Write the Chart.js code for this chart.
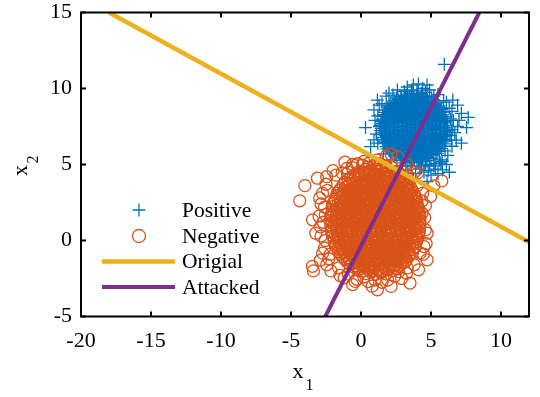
<!DOCTYPE html>
<html><head><meta charset="utf-8">
<script src="https://cdn.jsdelivr.net/npm/chart.js@4"></script>
<style>html,body{margin:0;padding:0;background:#fff;}canvas{display:block;}</style>
</head><body>
<canvas id="c" width="540" height="397"></canvas>
<script>
// ---- data ----
const xTicks = [-20, -15, -10, -5, 0, 5, 10];
const yTicks = [-5, 0, 5, 10, 15];
const xRange = [-20, 12];
const yRange = [-5, 15];
const seriesNames = ['Positive', 'Negative', 'Origial', 'Attacked'];
const originalLineX = [-18, 12];
const originalLineY = [15, -0.1];
const attackedLineX = [-2.55, 8.45];
const attackedLineY = [-5, 15];

// Positive samples, pairs x,y
const positivePts = [
3.35,5.13, 3.68,5.19, 4.0,5.12, 4.3,5.17,
2.56,5.43, 2.87,5.48, 3.17,5.41, 3.47,5.47, 3.77,5.42, 4.07,5.5, 4.37,5.44, 4.67,5.46, 5.0,5.41,
2.16,5.77, 2.46,5.72, 2.76,5.79, 3.06,5.73, 3.36,5.78, 3.66,5.71, 3.96,5.76, 4.26,5.74, 4.56,5.8, 4.86,5.72, 5.16,5.77, 5.43,5.73,
1.86,6.03, 2.16,6.08, 2.46,6.01, 2.76,6.07, 3.06,6.02, 3.36,6.09, 3.66,6.04, 3.96,6.06, 4.26,6.0, 4.56,6.08, 4.86,6.03, 5.16,6.07, 5.46,6.02, 5.74,6.06,
1.66,6.37, 1.96,6.32, 2.26,6.39, 2.56,6.33, 2.86,6.38, 3.16,6.31, 3.46,6.36, 3.76,6.34, 4.06,6.4, 4.36,6.32, 4.66,6.37, 4.96,6.33, 5.26,6.38, 5.56,6.31, 5.93,6.36,
1.56,6.63, 1.86,6.68, 2.16,6.61, 2.46,6.67, 2.76,6.62, 3.06,6.69, 3.36,6.64, 3.66,6.66, 3.96,6.6, 4.26,6.68, 4.56,6.63, 4.86,6.67, 5.16,6.62, 5.46,6.69, 5.76,6.64, 6.04,6.66,
1.46,6.97, 1.76,6.92, 2.06,6.99, 2.36,6.93, 2.66,6.98, 2.96,6.91, 3.26,6.96, 3.56,6.94, 3.86,7.0, 4.16,6.92, 4.46,6.97, 4.76,6.93, 5.06,6.98, 5.36,6.91, 5.66,6.96, 5.96,6.94, 6.14,6.98,
1.41,7.23, 1.71,7.28, 2.01,7.21, 2.31,7.27, 2.61,7.22, 2.91,7.29, 3.21,7.24, 3.51,7.26, 3.81,7.2, 4.11,7.28, 4.41,7.23, 4.71,7.27, 5.01,7.22, 5.31,7.29, 5.61,7.24, 5.91,7.26, 6.19,7.22,
1.42,7.57, 1.72,7.52, 2.02,7.59, 2.32,7.53, 2.62,7.58, 2.92,7.51, 3.22,7.56, 3.52,7.54, 3.82,7.6, 4.12,7.52, 4.42,7.57, 4.72,7.53, 5.02,7.58, 5.32,7.51, 5.62,7.56, 5.92,7.54, 6.18,7.58,
1.47,7.83, 1.77,7.88, 2.07,7.81, 2.37,7.87, 2.67,7.82, 2.97,7.89, 3.27,7.84, 3.57,7.86, 3.87,7.8, 4.17,7.88, 4.47,7.83, 4.77,7.87, 5.07,7.82, 5.37,7.89, 5.67,7.84, 5.97,7.86, 6.13,7.81,
1.55,8.17, 1.85,8.12, 2.15,8.19, 2.45,8.13, 2.75,8.18, 3.05,8.11, 3.35,8.16, 3.65,8.14, 3.95,8.2, 4.25,8.12, 4.55,8.17, 4.85,8.13, 5.15,8.18, 5.45,8.11, 5.75,8.16, 6.05,8.14,
1.68,8.43, 1.98,8.48, 2.28,8.41, 2.58,8.47, 2.88,8.42, 3.18,8.49, 3.48,8.44, 3.78,8.46, 4.08,8.4, 4.38,8.48, 4.68,8.43, 4.98,8.47, 5.28,8.42, 5.58,8.49, 5.91,8.44,
1.87,8.77, 2.17,8.72, 2.47,8.79, 2.77,8.73, 3.07,8.78, 3.37,8.71, 3.67,8.76, 3.97,8.74, 4.27,8.8, 4.57,8.72, 4.87,8.77, 5.17,8.73, 5.47,8.78, 5.72,8.74,
2.14,9.03, 2.44,9.08, 2.74,9.01, 3.04,9.07, 3.34,9.02, 3.64,9.09, 3.94,9.04, 4.24,9.06, 4.54,9.0, 4.84,9.08, 5.14,9.03, 5.44,9.06,
2.55,9.37, 2.85,9.32, 3.15,9.39, 3.45,9.33, 3.75,9.38, 4.05,9.31, 4.35,9.36, 4.65,9.34, 5.04,9.38,
3.32,9.63, 3.65,9.68, 3.98,9.61, 4.3,9.67,
5.95,11.59, 0.32,7.43, 0.93,8.59, 1.17,9.24, 2.28,9.57, 3.74,10.23, 4.72,10.23, 6.56,9.24, 7.17,8.37, 7.66,8.1,
7.54,7.43, 7.17,6.4, 6.31,4.49, 5.82,4.64, 4.72,3.88, 3.74,3.99, 0.69,6.18, 0.93,6.62,
1.0,7.9, 1.1,7.0, 1.3,8.9, 1.8,9.5, 2.6,9.9, 3.1,9.8, 4.4,10.0, 4.9,9.9, 5.5,9.6, 6.1,9.1, 6.5,8.5, 6.6,7.9,
6.7,7.1, 6.5,6.2, 6.2,5.6, 5.7,5.1, 5.3,4.7, 4.8,4.6, 4.2,4.7, 2.8,4.9, 2.1,5.3, 1.6,5.7, 1.2,6.4, 6.9,7.5,
3.3,10.1, 4.1,10.3, 1.5,9.0, 2.0,9.7,
6.45,6.6, 6.5,7.3, 6.4,8.0, 6.3,8.7, 6.0,5.9, 5.6,5.3, 4.9,4.95, 4.3,4.85, 3.6,4.9, 5.3,5.05, 6.35,6.9, 5.9,9.2,
3.6,9.9, 4.0,9.85, 4.6,9.75, 5.2,9.5,
4.5,4.5, 5.0,4.3, 5.5,4.4, 5.2,4.9, 4.6,5.0, 5.8,5.2, 6.1,5.0, 3.2,4.6, 3.9,4.4, 6.8,6.6, 7.0,7.9, 6.9,8.9,
1.3,7.5, 1.2,8.2
];
// Positive samples in the dense core (between the rows above)
const positiveCorePts = [
2.9,5.27, 3.2,5.35, 3.5,5.25, 3.8,5.33, 4.1,5.29, 4.4,5.36, 4.7,5.26,
2.4,5.58, 2.7,5.65, 3.0,5.55, 3.3,5.63, 3.6,5.59, 3.9,5.66, 4.2,5.56, 4.5,5.62, 4.8,5.57, 5.15,5.64,
2.02,5.88, 2.32,5.95, 2.62,5.85, 2.92,5.93, 3.22,5.89, 3.52,5.96, 3.82,5.86, 4.12,5.92, 4.42,5.87, 4.72,5.94, 5.02,5.88, 5.32,5.93, 5.58,5.86,
1.78,6.18, 2.08,6.25, 2.38,6.15, 2.68,6.23, 2.98,6.19, 3.28,6.26, 3.58,6.16, 3.88,6.22, 4.18,6.17, 4.48,6.24, 4.78,6.18, 5.08,6.23, 5.38,6.16, 5.68,6.22,
1.62,6.48, 1.92,6.55, 2.22,6.45, 2.52,6.53, 2.82,6.49, 3.12,6.56, 3.42,6.46, 3.72,6.52, 4.02,6.47, 4.32,6.54, 4.62,6.48, 4.92,6.53, 5.22,6.46, 5.52,6.52, 5.82,6.47, 6.0,6.55,
1.52,6.78, 1.82,6.85, 2.12,6.75, 2.42,6.83, 2.72,6.79, 3.02,6.86, 3.32,6.76, 3.62,6.82, 3.92,6.77, 4.22,6.84, 4.52,6.78, 4.82,6.83, 5.12,6.76, 5.42,6.82, 5.72,6.77, 6.05,6.84,
1.48,7.08, 1.78,7.15, 2.08,7.05, 2.38,7.13, 2.68,7.09, 2.98,7.16, 3.28,7.06, 3.58,7.12, 3.88,7.07, 4.18,7.14, 4.48,7.08, 4.78,7.13, 5.08,7.06, 5.38,7.12, 5.68,7.07, 5.98,7.14,
1.45,7.38, 1.75,7.45, 2.05,7.35, 2.35,7.43, 2.65,7.39, 2.95,7.46, 3.25,7.36, 3.55,7.42, 3.85,7.37, 4.15,7.44, 4.45,7.38, 4.75,7.43, 5.05,7.36, 5.35,7.42, 5.65,7.37, 5.95,7.44, 6.15,7.39,
1.48,7.68, 1.78,7.75, 2.08,7.65, 2.38,7.73, 2.68,7.69, 2.98,7.76, 3.28,7.66, 3.58,7.72, 3.88,7.67, 4.18,7.74, 4.48,7.68, 4.78,7.73, 5.08,7.66, 5.38,7.72, 5.68,7.67, 5.98,7.74,
1.52,7.98, 1.82,8.05, 2.12,7.95, 2.42,8.03, 2.72,7.99, 3.02,8.06, 3.32,7.96, 3.62,8.02, 3.92,7.97, 4.22,8.04, 4.52,7.98, 4.82,8.03, 5.12,7.96, 5.42,8.02, 5.72,7.97, 6.02,8.04,
1.62,8.28, 1.92,8.35, 2.22,8.25, 2.52,8.33, 2.82,8.29, 3.12,8.36, 3.42,8.26, 3.72,8.32, 4.02,8.27, 4.32,8.34, 4.62,8.28, 4.92,8.33, 5.22,8.26, 5.52,8.32, 5.82,8.27,
1.78,8.58, 2.08,8.65, 2.38,8.55, 2.68,8.63, 2.98,8.59, 3.28,8.66, 3.58,8.56, 3.88,8.62, 4.18,8.57, 4.48,8.64, 4.78,8.58, 5.08,8.63, 5.38,8.56, 5.75,8.62,
2.02,8.88, 2.32,8.95, 2.62,8.85, 2.92,8.93, 3.22,8.89, 3.52,8.96, 3.82,8.86, 4.12,8.92, 4.42,8.87, 4.72,8.94, 5.02,8.88, 5.32,8.93, 5.58,8.86,
2.38,9.18, 2.68,9.25, 2.98,9.15, 3.28,9.23, 3.58,9.19, 3.88,9.26, 4.18,9.16, 4.48,9.22, 4.78,9.17, 5.18,9.24,
2.88,9.48, 3.18,9.55, 3.48,9.45, 3.78,9.53, 4.08,9.49, 4.38,9.56, 4.7,9.46
];

// Negative samples, pairs x,y
const negativePts = [
0.32,-2.18, 0.71,-2.09, 1.05,-2.22, 1.42,-2.12, 1.78,-2.2,
-0.48,-1.77, -0.12,-1.86, 0.25,-1.74, 0.6,-1.83, 0.93,-1.79, 1.31,-1.88, 1.66,-1.75, 2.0,-1.84, 2.33,-1.78, 2.62,-1.86,
-0.98,-1.42, -0.62,-1.5, -0.3,-1.4, 0.07,-1.48, 0.41,-1.43, 0.77,-1.52, 1.12,-1.41, 1.46,-1.47, 1.83,-1.44, 2.17,-1.51, 2.52,-1.4, 2.86,-1.46, 3.12,-1.43,
-1.31,-1.08, -0.95,-1.13, -0.6,-1.05, -0.27,-1.15, 0.1,-1.09, 0.44,-1.12, 0.8,-1.04, 1.15,-1.14, 1.5,-1.07, 1.86,-1.12, 2.2,-1.06, 2.55,-1.15, 2.9,-1.09, 3.2,-1.1, 3.42,-1.05,
-1.6,-0.73, -1.25,-0.79, -0.9,-0.71, -0.55,-0.8, -0.2,-0.74, 0.16,-0.78, 0.5,-0.7, 0.86,-0.77, 1.2,-0.73, 1.56,-0.81, 1.9,-0.72, 2.25,-0.76, 2.6,-0.7, 2.95,-0.79, 3.3,-0.74, 3.68,-0.77,
-1.82,-0.38, -1.47,-0.44, -1.1,-0.36, -0.76,-0.43, -0.42,-0.37, -0.06,-0.45, 0.3,-0.39, 0.65,-0.42, 1.0,-0.35, 1.34,-0.44, 1.7,-0.38, 2.05,-0.41, 2.4,-0.36, 2.74,-0.45, 3.1,-0.4, 3.45,-0.37, 3.88,-0.42,
-1.93,-0.03, -1.58,-0.09, -1.22,-0.01, -0.88,-0.08, -0.53,-0.02, -0.18,-0.1, 0.17,-0.04, 0.52,-0.07, 0.87,0.0, 1.22,-0.09, 1.57,-0.03, 1.92,-0.06, 2.27,0.01, 2.62,-0.08, 2.97,-0.02, 3.32,-0.07, 3.66,-0.04, 3.98,-0.06,
-2.02,0.32, -1.66,0.26, -1.31,0.34, -0.96,0.27, -0.61,0.33, -0.26,0.25, 0.09,0.31, 0.44,0.28, 0.79,0.35, 1.14,0.26, 1.49,0.32, 1.84,0.29, 2.19,0.36, 2.54,0.27, 2.89,0.33, 3.24,0.28, 3.6,0.31, 3.92,0.26, 4.1,0.34,
-2.1,0.63, -1.75,0.69, -1.4,0.61, -1.05,0.68, -0.7,0.6, -0.35,0.7, 0.0,0.64, 0.35,0.67, 0.7,0.6, 1.05,0.69, 1.4,0.62, 1.75,0.66, 2.1,0.6, 2.45,0.7, 2.8,0.63, 3.15,0.68, 3.5,0.61, 3.85,0.67, 4.18,0.64,
-2.16,1.02, -1.8,0.96, -1.45,1.04, -1.1,0.97, -0.75,1.03, -0.4,0.95, -0.05,1.01, 0.3,0.98, 0.65,1.05, 1.0,0.96, 1.35,1.02, 1.7,0.99, 2.05,1.06, 2.4,0.97, 2.75,1.03, 3.1,0.98, 3.45,1.01, 3.8,0.96, 4.22,1.04,
-2.14,1.33, -1.78,1.39, -1.43,1.31, -1.08,1.38, -0.73,1.3, -0.38,1.4, -0.03,1.34, 0.32,1.37, 0.67,1.3, 1.02,1.39, 1.37,1.32, 1.72,1.36, 2.07,1.3, 2.42,1.4, 2.77,1.33, 3.12,1.38, 3.47,1.31, 3.82,1.37, 4.2,1.34,
-2.12,1.72, -1.76,1.66, -1.41,1.74, -1.06,1.67, -0.71,1.73, -0.36,1.65, -0.01,1.71, 0.34,1.68, 0.69,1.75, 1.04,1.66, 1.39,1.72, 1.74,1.69, 2.09,1.76, 2.44,1.67, 2.79,1.73, 3.14,1.68, 3.49,1.71, 3.84,1.66, 4.18,1.74,
-2.05,2.03, -1.7,2.09, -1.35,2.01, -1.0,2.08, -0.65,2.0, -0.3,2.1, 0.05,2.04, 0.4,2.07, 0.75,2.0, 1.1,2.09, 1.45,2.02, 1.8,2.06, 2.15,2.0, 2.5,2.1, 2.85,2.03, 3.2,2.08, 3.55,2.01, 3.9,2.07, 4.14,2.04,
-2.0,2.42, -1.64,2.36, -1.29,2.44, -0.94,2.37, -0.59,2.43, -0.24,2.35, 0.11,2.41, 0.46,2.38, 0.81,2.45, 1.16,2.36, 1.51,2.42, 1.86,2.39, 2.21,2.46, 2.56,2.37, 2.91,2.43, 3.26,2.38, 3.61,2.41, 4.02,2.37,
-1.86,2.73, -1.5,2.79, -1.15,2.71, -0.8,2.78, -0.45,2.7, -0.1,2.8, 0.25,2.74, 0.6,2.77, 0.95,2.7, 1.3,2.79, 1.65,2.72, 2.0,2.76, 2.35,2.7, 2.7,2.8, 3.05,2.73, 3.4,2.78, 3.72,2.71, 3.95,2.76,
-1.7,3.12, -1.34,3.06, -0.99,3.14, -0.64,3.07, -0.29,3.13, 0.06,3.05, 0.41,3.11, 0.76,3.08, 1.11,3.15, 1.46,3.06, 1.81,3.12, 2.16,3.09, 2.51,3.16, 2.86,3.07, 3.21,3.13, 3.5,3.08, 3.76,3.11,
-1.45,3.43, -1.1,3.49, -0.75,3.41, -0.4,3.48, -0.05,3.4, 0.3,3.5, 0.65,3.44, 1.0,3.47, 1.35,3.4, 1.7,3.49, 2.05,3.42, 2.4,3.46, 2.75,3.4, 3.1,3.5, 3.35,3.43, 3.56,3.47,
-1.15,3.82, -0.8,3.76, -0.45,3.84, -0.1,3.77, 0.25,3.83, 0.6,3.75, 0.95,3.81, 1.3,3.78, 1.65,3.85, 2.0,3.76, 2.35,3.82, 2.7,3.79, 3.0,3.84, 3.26,3.77,
-0.75,4.13, -0.4,4.19, -0.05,4.11, 0.3,4.18, 0.65,4.1, 1.0,4.2, 1.35,4.14, 1.7,4.17, 2.05,4.1, 2.4,4.19, 2.7,4.12, 2.86,4.16,
-0.15,4.52, 0.2,4.46, 0.55,4.54, 0.9,4.47, 1.25,4.53, 1.6,4.45, 1.95,4.51, 2.25,4.48,
0.45,4.82, 0.95,4.86, 1.5,4.79,
-4.38,2.61, -4.01,3.61, -3.11,4.10, -3.47,1.36, -3.23,0.48, -3.47,-1.7, -3.4,-2.0, -2.74,-0.83, -1.15,5.15,
1.79,5.55, 2.15,5.68, 2.64,5.5, 5.77,3.92, 4.97,2.89, 4.72,0.48, 4.72,-1.27, 4.11,-1.93, 1.17,-3.24, 2.15,-3.02,
-0.42,-2.69, 3.25,-2.15, 4.23,-0.83, 4.36,1.8,
-2.6,2.2, -2.55,0.0, -2.7,1.2, -2.4,3.3, -2.3,-1.2, -1.8,4.3, -0.6,4.8, 0.2,5.2, 1.2,5.3, 2.9,4.6, 3.6,4.1,
4.4,3.1, 4.6,2.3, 4.65,-0.2, 3.8,-1.6, 2.9,-2.5, 1.9,-2.6, 0.5,-2.7, -0.9,-2.2, -1.6,-1.8, -2.2,-0.9,
3.3,5.0, 4.05,4.45, 5.2,3.6, 3.5,-2.8, 0.8,-3.0, -1.5,-2.3, -2.9,0.9, -2.95,2.8, -2.0,4.6,
-1.0,4.75, -0.6,5.0, -0.25,5.05, 0.1,4.95, 0.6,5.1, 1.0,5.0, 1.35,5.05, 1.8,4.9, 2.2,4.8, 2.6,4.55, -1.35,4.45, -0.9,4.5,
-2.5,3.7, -2.75,3.1, -2.85,2.4, -2.55,1.7, -2.85,0.3, -2.6,-0.5, -2.45,-1.6, -2.15,-2.0, -2.9,-1.3, -3.0,1.6, -2.45,4.2,
-1.2,-2.45, -0.3,-2.55, 0.2,-2.4, 1.0,-2.6, 1.5,-2.75, 2.4,-2.35, 2.7,-2.05, 3.3,-1.8, -0.6,-2.9,
4.45,-0.9, 4.6,0.7, 4.55,1.5, 4.35,2.6, 4.0,3.6, 3.8,4.5, 4.5,-0.4
];
// Negative samples in the dense core (between the rows above)
const negativeCorePts = [
-0.2,-1.95, 0.15,-2.0, 0.5,-1.93, 0.85,-1.99, 1.2,-1.96, 1.55,-2.02, 1.9,-1.94, 2.28,-1.98,
-0.75,-1.6, -0.4,-1.66, -0.05,-1.58, 0.3,-1.64, 0.65,-1.61, 1.0,-1.67, 1.35,-1.59, 1.7,-1.63, 2.05,-1.57, 2.4,-1.65, 2.82,-1.6,
-1.15,-1.25, -0.8,-1.31, -0.45,-1.23, -0.1,-1.29, 0.25,-1.26, 0.6,-1.32, 0.95,-1.24, 1.3,-1.28, 1.65,-1.22, 2.0,-1.3, 2.35,-1.25, 2.7,-1.29, 3.05,-1.23, 3.24,-1.3,
-1.45,-0.9, -1.1,-0.96, -0.75,-0.88, -0.4,-0.94, -0.05,-0.91, 0.3,-0.97, 0.65,-0.89, 1.0,-0.93, 1.35,-0.87, 1.7,-0.95, 2.05,-0.9, 2.4,-0.94, 2.75,-0.88, 3.1,-0.96, 3.5,-0.91,
-1.65,-0.55, -1.3,-0.61, -0.95,-0.53, -0.6,-0.59, -0.25,-0.56, 0.1,-0.62, 0.45,-0.54, 0.8,-0.58, 1.15,-0.52, 1.5,-0.6, 1.85,-0.55, 2.2,-0.59, 2.55,-0.53, 2.9,-0.61, 3.25,-0.56, 3.7,-0.58,
-1.78,-0.2, -1.43,-0.26, -1.08,-0.18, -0.73,-0.24, -0.38,-0.21, -0.03,-0.27, 0.32,-0.19, 0.67,-0.23, 1.02,-0.17, 1.37,-0.25, 1.72,-0.2, 2.07,-0.24, 2.42,-0.18, 2.77,-0.26, 3.12,-0.21, 3.47,-0.23, 3.85,-0.19,
-1.93,0.15, -1.58,0.09, -1.23,0.17, -0.88,0.11, -0.53,0.14, -0.18,0.08, 0.17,0.16, 0.52,0.12, 0.87,0.18, 1.22,0.1, 1.57,0.15, 1.92,0.11, 2.27,0.17, 2.62,0.09, 2.97,0.14, 3.32,0.12, 3.67,0.16, 4.02,0.1,
-2.03,0.5, -1.68,0.44, -1.33,0.52, -0.98,0.46, -0.63,0.49, -0.28,0.43, 0.07,0.51, 0.42,0.47, 0.77,0.53, 1.12,0.45, 1.47,0.5, 1.82,0.46, 2.17,0.52, 2.52,0.44, 2.87,0.49, 3.22,0.47, 3.57,0.51, 3.92,0.45, 4.14,0.5,
-2.07,0.85, -1.72,0.79, -1.37,0.87, -1.02,0.81, -0.67,0.84, -0.32,0.78, 0.03,0.86, 0.38,0.82, 0.73,0.88, 1.08,0.8, 1.43,0.85, 1.78,0.81, 2.13,0.87, 2.48,0.79, 2.83,0.84, 3.18,0.82, 3.53,0.86, 3.88,0.8, 4.18,0.85,
-2.08,1.2, -1.63,1.14, -1.28,1.22, -0.93,1.16, -0.58,1.19, -0.23,1.13, 0.12,1.21, 0.47,1.17, 0.82,1.23, 1.17,1.15, 1.52,1.2, 1.87,1.16, 2.22,1.22, 2.57,1.14, 2.92,1.19, 3.27,1.17, 3.62,1.21, 3.97,1.15, 4.2,1.19,
-2.06,1.55, -1.6,1.49, -1.25,1.57, -0.9,1.51, -0.55,1.54, -0.2,1.48, 0.15,1.56, 0.5,1.52, 0.85,1.58, 1.2,1.5, 1.55,1.55, 1.9,1.51, 2.25,1.57, 2.6,1.49, 2.95,1.54, 3.3,1.52, 3.65,1.56, 4.0,1.5, 4.22,1.55,
-2.02,1.9, -1.58,1.84, -1.23,1.92, -0.88,1.86, -0.53,1.89, -0.18,1.83, 0.17,1.91, 0.52,1.87, 0.87,1.93, 1.22,1.85, 1.57,1.9, 1.92,1.86, 2.27,1.92, 2.62,1.84, 2.97,1.89, 3.32,1.87, 3.67,1.91, 4.12,1.85,
-1.98,2.25, -1.52,2.19, -1.17,2.27, -0.82,2.21, -0.47,2.24, -0.12,2.18, 0.23,2.26, 0.58,2.22, 0.93,2.28, 1.28,2.2, 1.63,2.25, 1.98,2.21, 2.33,2.27, 2.68,2.19, 3.03,2.24, 3.38,2.22, 3.73,2.26, 4.08,2.2,
-1.88,2.6, -1.47,2.54, -1.12,2.62, -0.77,2.56, -0.42,2.59, -0.07,2.53, 0.28,2.61, 0.63,2.57, 0.98,2.63, 1.33,2.55, 1.68,2.6, 2.03,2.56, 2.38,2.62, 2.73,2.54, 3.08,2.59, 3.43,2.57, 3.78,2.61, 3.98,2.55,
-1.73,2.95, -1.33,2.89, -0.98,2.97, -0.63,2.91, -0.28,2.94, 0.07,2.88, 0.42,2.96, 0.77,2.92, 1.12,2.98, 1.47,2.9, 1.82,2.95, 2.17,2.91, 2.52,2.97, 2.87,2.89, 3.22,2.94, 3.57,2.92, 3.84,2.96,
-1.53,3.3, -1.18,3.24, -0.83,3.32, -0.48,3.26, -0.13,3.29, 0.22,3.23, 0.57,3.31, 0.92,3.27, 1.27,3.33, 1.62,3.25, 1.97,3.3, 2.32,3.26, 2.67,3.32, 3.02,3.24, 3.37,3.29, 3.64,3.27,
-1.28,3.65, -0.93,3.59, -0.58,3.67, -0.23,3.61, 0.12,3.64, 0.47,3.58, 0.82,3.66, 1.17,3.62, 1.52,3.68, 1.87,3.6, 2.22,3.65, 2.57,3.61, 2.92,3.67, 3.38,3.62,
-0.93,4.0, -0.58,3.94, -0.23,4.02, 0.12,3.96, 0.47,3.99, 0.82,3.93, 1.17,4.01, 1.52,3.97, 1.87,4.03, 2.22,3.95, 2.57,4.0, 3.02,3.96,
-0.43,4.35, -0.08,4.29, 0.27,4.37, 0.62,4.31, 0.97,4.34, 1.32,4.28, 1.67,4.36, 2.02,4.32, 2.5,4.35,
0.3,4.67, 0.7,4.62, 1.1,4.68, 1.45,4.63, 1.8,4.66
];

// ---- build datasets from the arrays ----
function toPoints(flat){ const out=[]; for(let i=0;i<flat.length;i+=2) out.push({x:flat[i], y:flat[i+1]}); return out; }
function zipXY(xs, ys){ return xs.map((x,i)=>({x:x, y:ys[i]})); }

const COLORS = {pos:'#0072BD', neg:'#D95319', orig:'#EDB120', att:'#7E2F8E'};
const SERIF = "'Liberation Serif', 'Times New Roman', serif";

const framePlugin = {
  id: 'frame',
  afterDraw(chart){
    const {ctx, chartArea:a, scales:{x, y}} = chart;
    ctx.save();
    ctx.strokeStyle = '#000';
    ctx.lineWidth = 2;
    ctx.strokeRect(a.left, a.top, a.right - a.left, a.bottom - a.top);
    const tl = 5;
    ctx.beginPath();
    xTicks.forEach(v => {
      const px = x.getPixelForValue(v);
      ctx.moveTo(px, a.bottom); ctx.lineTo(px, a.bottom - tl);
      ctx.moveTo(px, a.top); ctx.lineTo(px, a.top + tl);
    });
    yTicks.forEach(v => {
      const py = y.getPixelForValue(v);
      ctx.moveTo(a.left, py); ctx.lineTo(a.left + tl, py);
      ctx.moveTo(a.right, py); ctx.lineTo(a.right - tl, py);
    });
    ctx.stroke();

    // axis titles with subscripts
    ctx.fillStyle = '#000';
    ctx.textAlign = 'left';
    ctx.textBaseline = 'alphabetic';
    ctx.font = '22px ' + SERIF;
    ctx.fillText('x', 292.5, 377.5);
    ctx.font = '16px ' + SERIF;
    ctx.fillText('1', 305.5, 389.5);

    ctx.save();
    ctx.translate(26.7, 176);
    ctx.rotate(-Math.PI/2);
    ctx.font = '22px ' + SERIF;
    ctx.fillText('x', 0, 0);
    ctx.font = '16px ' + SERIF;
    ctx.fillText('2', 12.5, 11.5);
    ctx.restore();

    // legend
    const lx = 139, textX = 182;
    const rows = [210, 236, 261.5, 287];
    ctx.lineWidth = 1.3;
    ctx.strokeStyle = COLORS.pos;
    ctx.beginPath();
    ctx.moveTo(lx - 6.5, rows[0]); ctx.lineTo(lx + 6.5, rows[0]);
    ctx.moveTo(lx, rows[0] - 6.5); ctx.lineTo(lx, rows[0] + 6.5);
    ctx.stroke();
    ctx.strokeStyle = COLORS.neg;
    ctx.beginPath();
    ctx.arc(lx, rows[1], 6.5, 0, Math.PI*2);
    ctx.stroke();
    ctx.lineWidth = 4.5;
    ctx.strokeStyle = COLORS.orig;
    ctx.beginPath(); ctx.moveTo(102, rows[2]); ctx.lineTo(175, rows[2]); ctx.stroke();
    ctx.lineWidth = 4;
    ctx.strokeStyle = COLORS.att;
    ctx.beginPath(); ctx.moveTo(102, rows[3]); ctx.lineTo(175, rows[3]); ctx.stroke();
    ctx.fillStyle = '#000';
    ctx.font = '21.5px ' + SERIF;
    ctx.textBaseline = 'middle';
    seriesNames.forEach((n, i) => ctx.fillText(n, textX, rows[i] + 1));
    ctx.restore();
  }
};

new Chart(document.getElementById('c'), {
  type: 'scatter',
  data: {
    datasets: [
      { label: seriesNames[0], data: toPoints(positivePts.concat(positiveCorePts)), pointStyle: 'cross', pointRadius: 6.5,
        borderColor: COLORS.pos, backgroundColor: 'rgba(0,0,0,0)', pointBorderWidth: 1.3, order: 3 },
      { label: seriesNames[1], data: toPoints(negativePts.concat(negativeCorePts)), pointStyle: 'circle', pointRadius: 6,
        borderColor: COLORS.neg, backgroundColor: 'rgba(0,0,0,0)', pointBorderWidth: 1.3, order: 2 },
      { label: seriesNames[2], data: zipXY(originalLineX, originalLineY), showLine: true, pointRadius: 0,
        borderColor: COLORS.orig, borderWidth: 4.5, order: 1 },
      { label: seriesNames[3], data: zipXY(attackedLineX, attackedLineY), showLine: true, pointRadius: 0,
        borderColor: COLORS.att, borderWidth: 4, order: 0 }
    ]
  },
  options: {
    responsive: false,
    devicePixelRatio: 1,
    animation: false,
    events: [],
    layout: { padding: { top: 12.5, right: 11, left: 0, bottom: 0 } },
    plugins: { legend: { display: false }, tooltip: { enabled: false } },
    scales: {
      x: {
        type: 'linear', min: xRange[0], max: xRange[1],
        grid: { display: false, drawTicks: false }, border: { display: false },
        afterBuildTicks: s => { s.ticks = xTicks.map(v => ({ value: v })); },
        afterFit: s => { s.height = 80.5; s.paddingLeft = 0; s.paddingRight = 0; },
        ticks: { color: '#000', padding: 12, font: { family: SERIF, size: 22 }, callback: v => String(v), maxRotation: 0, autoSkip: false }
      },
      y: {
        type: 'linear', min: yRange[0], max: yRange[1],
        grid: { display: false, drawTicks: false }, border: { display: false },
        afterBuildTicks: s => { s.ticks = yTicks.map(v => ({ value: v })); },
        afterFit: s => { s.width = 81; s.paddingTop = 0; s.paddingBottom = 0; },
        ticks: { color: '#000', padding: 9, font: { family: SERIF, size: 22 }, callback: v => String(v), autoSkip: false }
      }
    }
  },
  plugins: [framePlugin]
});
</script>
</body></html>
